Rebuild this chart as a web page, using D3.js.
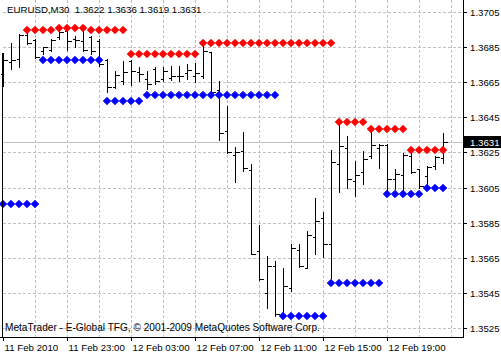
<!DOCTYPE html>
<html>
<head>
<meta charset="utf-8">
<script src="https://cdn.jsdelivr.net/npm/d3@7"></script>
<style>
  body { margin: 0; background: #fff; }
  svg { display: block; }
  text { font-family: 'Liberation Sans', Arial, sans-serif; }
</style>
</head>
<body>
<svg id="chart" width="501" height="354"></svg>
<script>
const symbol = 'EURUSD,M30';

// M30 bars, index 0 = 11 Feb 19:00
const open = [1.36695, 1.36763, 1.36780, 1.36917, 1.36888, 1.36826, 1.36831, 1.36907, 1.36940, 1.36894,
  1.36883, 1.36905, 1.36884, 1.36774, 1.36620, 1.36655, 1.36769, 1.36706, 1.36666, 1.36723,
  1.36666, 1.36672, 1.36683, 1.36700, 1.36683, 1.36683, 1.36820, 1.36605, 1.36375, 1.36233,
  1.36261, 1.36151, 1.35686, 1.35452, 1.35606, 1.35327, 1.35480, 1.35697, 1.35594, 1.35771,
  1.35874, 1.35731, 1.36182, 1.36278, 1.36085, 1.36136, 1.36229, 1.36273, 1.36290, 1.36096,
  1.36119, 1.36229, 1.36153, 1.36115, 1.36172, 1.3622];
const high = [1.36818, 1.36871, 1.36923, 1.36941, 1.36894, 1.36850, 1.36894, 1.36970, 1.36951, 1.36913,
  1.36957, 1.36913, 1.36894, 1.36780, 1.36712, 1.36769, 1.36774, 1.36734, 1.36712, 1.36734,
  1.36736, 1.36742, 1.36740, 1.36752, 1.36761, 1.36856, 1.36822, 1.36656, 1.36514, 1.36282,
  1.36366, 1.36182, 1.35834, 1.35659, 1.35630, 1.35593, 1.35731, 1.35726, 1.35801, 1.35992,
  1.35908, 1.36263, 1.36410, 1.36343, 1.36200, 1.36257, 1.36371, 1.36296, 1.36298, 1.36153,
  1.36248, 1.36248, 1.36156, 1.36172, 1.36229, 1.3636];
const low = [1.36628, 1.36723, 1.36736, 1.36866, 1.36790, 1.36813, 1.36827, 1.36894, 1.36831, 1.36850,
  1.36827, 1.36813, 1.36742, 1.36592, 1.36618, 1.36638, 1.36632, 1.36655, 1.36609, 1.36638,
  1.36656, 1.36660, 1.36656, 1.36666, 1.36649, 1.36676, 1.36590, 1.36320, 1.36248, 1.36081,
  1.36147, 1.35669, 1.35526, 1.35365, 1.35317, 1.35309, 1.35463, 1.35600, 1.35593, 1.35669,
  1.35657, 1.35537, 1.36022, 1.36049, 1.36001, 1.36068, 1.36220, 1.36163, 1.36029, 1.36039,
  1.36029, 1.36132, 1.36049, 1.36055, 1.36153, 1.3619];
const close = [1.36774, 1.36774, 1.36920, 1.36871, 1.36791, 1.36848, 1.36893, 1.36934, 1.36883, 1.36893,
  1.36831, 1.36826, 1.36752, 1.36620, 1.36689, 1.36706, 1.36712, 1.36695, 1.36638, 1.36655,
  1.36712, 1.36683, 1.36684, 1.36717, 1.36700, 1.36826, 1.36594, 1.36362, 1.36252, 1.36252,
  1.36163, 1.35673, 1.35528, 1.35606, 1.35327, 1.35492, 1.35703, 1.35606, 1.35777, 1.35862,
  1.35731, 1.36193, 1.36284, 1.36096, 1.36119, 1.36210, 1.36290, 1.36290, 1.36096, 1.36130,
  1.36233, 1.36141, 1.36058, 1.36166, 1.36223, 1.3631];

// red markers (resistance) and blue markers (support), null = no marker
const resistance = [null, null, null, 1.36945, 1.36945, 1.36945, 1.36945, 1.36957, 1.36957, 1.36957,
  1.36957, 1.36945, 1.36945, 1.36945, 1.36945, 1.36945, 1.36809, 1.36809, 1.36809, 1.36809,
  1.36809, 1.36809, 1.36809, 1.36809, 1.36809, 1.36875, 1.36875, 1.36875, 1.36875, 1.36875,
  1.36875, 1.36875, 1.36875, 1.36875, 1.36875, 1.36875, 1.36875, 1.36875, 1.36875, 1.36875,
  1.36875, 1.36875, 1.36425, 1.36425, 1.36425, 1.36425, 1.36385, 1.36385, 1.36385, 1.36385,
  1.36385, 1.36265, 1.36265, 1.36265, 1.36265, 1.36265];
const support = [1.35958, 1.35958, 1.35958, 1.35958, 1.35958, 1.36776, 1.36776, 1.36776, 1.36776, 1.36776,
  1.36776, 1.36776, 1.36776, 1.36541, 1.36541, 1.36541, 1.36541, 1.36541, 1.36578, 1.36578,
  1.36578, 1.36578, 1.36578, 1.36578, 1.36578, 1.36578, 1.36578, 1.36578, 1.36578, 1.36578,
  1.36578, 1.36578, 1.36578, 1.36578, 1.36578, 1.35317, 1.35317, 1.35317, 1.35317, 1.35317,
  1.35317, 1.35509, 1.35509, 1.35509, 1.35509, 1.35509, 1.35509, 1.35509, 1.36015, 1.36015,
  1.36015, 1.36015, 1.36015, 1.36049, 1.36049, 1.36049];

const priceTicks = [1.3705, 1.3685, 1.3665, 1.3645, 1.3625, 1.3605, 1.3585, 1.3565, 1.3545, 1.3525];
const timeTicks = [0, 8, 16, 24, 32, 40, 48];
const timeLabels = ['11 Feb 2010', '11 Feb 23:00', '12 Feb 03:00', '12 Feb 07:00', '12 Feb 11:00', '12 Feb 15:00', '12 Feb 19:00'];
const gridBars = d3.range(4, 57, 4);

const width = 501, height = 354;
const plotRight = 463, plotBottom = 337;
const fontSize = 9.7;

const svg = d3.select('#chart');
const fmt = d3.format('.4f');

const x = d3.scaleLinear().domain([0, 55]).range([3, 443]);
const y = d3.scaleLinear().domain([1.3525, 1.3705]).range([328, 12]).interpolate(d3.interpolateRound);
const py = v => Math.round(y(v)) + 0.5;
const px = i => x(i) + 0.5;

// grid
const grid = svg.append('g')
  .attr('stroke', '#c0c0c0')
  .attr('stroke-dasharray', '3,2')
  .attr('shape-rendering', 'crispEdges');

grid.selectAll('line.h')
  .data(priceTicks)
  .enter().append('line')
  .attr('class', 'h')
  .attr('x1', 3).attr('x2', plotRight)
  .attr('y1', d => py(d)).attr('y2', d => py(d));

grid.selectAll('line.v')
  .data(gridBars)
  .enter().append('line')
  .attr('class', 'v')
  .attr('x1', d => px(d)).attr('x2', d => px(d))
  .attr('y1', 0).attr('y2', plotBottom);

// current price line
const last = close[close.length - 1];
svg.append('line')
  .attr('x1', 3).attr('x2', plotRight)
  .attr('y1', py(last)).attr('y2', py(last))
  .attr('stroke', '#c0c0c0')
  .attr('shape-rendering', 'crispEdges');

// copyright line
svg.append('text')
  .attr('x', 5).attr('y', 331)
  .attr('font-size', 10.1)
  .attr('fill', '#000')
  .text('MetaTrader - E-Global TFG, © 2001-2009 MetaQuotes Software Corp.');

// bars
const bars = svg.append('g')
  .attr('stroke', '#000')
  .attr('shape-rendering', 'crispEdges');

const idx = d3.range(open.length);

bars.selectAll('line.hl')
  .data(idx)
  .enter().append('line')
  .attr('x1', i => px(i)).attr('x2', i => px(i))
  .attr('y1', i => py(high[i]) - 0.5).attr('y2', i => py(low[i]) + 0.5);

bars.selectAll('line.o')
  .data(idx)
  .enter().append('line')
  .attr('x1', i => px(i) - 3).attr('x2', i => px(i))
  .attr('y1', i => py(open[i])).attr('y2', i => py(open[i]));

bars.selectAll('line.c')
  .data(idx)
  .enter().append('line')
  .attr('x1', i => px(i)).attr('x2', i => px(i) + 4)
  .attr('y1', i => py(close[i])).attr('y2', i => py(close[i]));

// markers
function diamond(i, v) {
  const cx = x(i), cy = y(v), r = 3.8;
  return `M${cx},${cy - r}L${cx + r},${cy}L${cx},${cy + r}L${cx - r},${cy}Z`;
}

function drawMarkers(values, color) {
  svg.append('g').selectAll('path')
    .data(idx.filter(i => values[i] != null))
    .enter().append('path')
    .attr('d', i => diamond(i, values[i]))
    .attr('fill', color)
    .attr('stroke', color)
    .attr('stroke-width', 0.8);
}
drawMarkers(resistance, '#ff0000');
drawMarkers(support, '#0000ff');

// frame
svg.append('line')
  .attr('x1', 2.5).attr('x2', 2.5).attr('y1', 53).attr('y2', plotBottom)
  .attr('stroke', '#000');
svg.append('line')
  .attr('x1', 0).attr('x2', plotRight + 1).attr('y1', plotBottom + 0.5).attr('y2', plotBottom + 0.5)
  .attr('stroke', '#000');
svg.append('line')
  .attr('x1', plotRight + 0.5).attr('x2', plotRight + 0.5).attr('y1', 0).attr('y2', plotBottom + 1)
  .attr('stroke', '#000');

// price axis
const yAxis = svg.append('g')
  .attr('transform', `translate(${plotRight},0)`)
  .call(d3.axisRight(y).tickValues(priceTicks).tickFormat(fmt).tickSize(4).tickSizeOuter(0));
yAxis.select('.domain').remove();
yAxis.attr('font-family', null).attr('font-size', null);
yAxis.selectAll('text')
  .attr('font-size', fontSize)
  .attr('x', 7);

// time axis
const xAxis = svg.append('g')
  .attr('transform', `translate(0,${plotBottom})`)
  .call(d3.axisBottom(x).tickValues(timeTicks).tickFormat((d, i) => timeLabels[i]).tickSize(4).tickSizeOuter(0));
xAxis.select('.domain').remove();
xAxis.attr('font-family', null).attr('font-size', null);
xAxis.selectAll('text')
  .attr('font-size', fontSize)
  .attr('text-anchor', 'start')
  .attr('x', 1);

// current price label
const lastY = py(last);
svg.append('rect')
  .attr('x', plotRight + 1).attr('y', lastY - 6.5)
  .attr('width', width - plotRight - 1).attr('height', 12)
  .attr('fill', '#000');
svg.append('text')
  .attr('x', plotRight + 7).attr('y', lastY)
  .attr('dy', '0.34em')
  .attr('font-size', fontSize)
  .attr('fill', '#fff')
  .text(fmt(last));

// header
svg.append('text')
  .attr('x', 7).attr('y', 13)
  .attr('font-size', fontSize)
  .attr('fill', '#000')
  .style('white-space', 'pre')
  .text(`${symbol}  ${fmt(open[55])} ${fmt(high[55])} ${fmt(low[55])} ${fmt(close[55])}`);
</script>
</body>
</html>
